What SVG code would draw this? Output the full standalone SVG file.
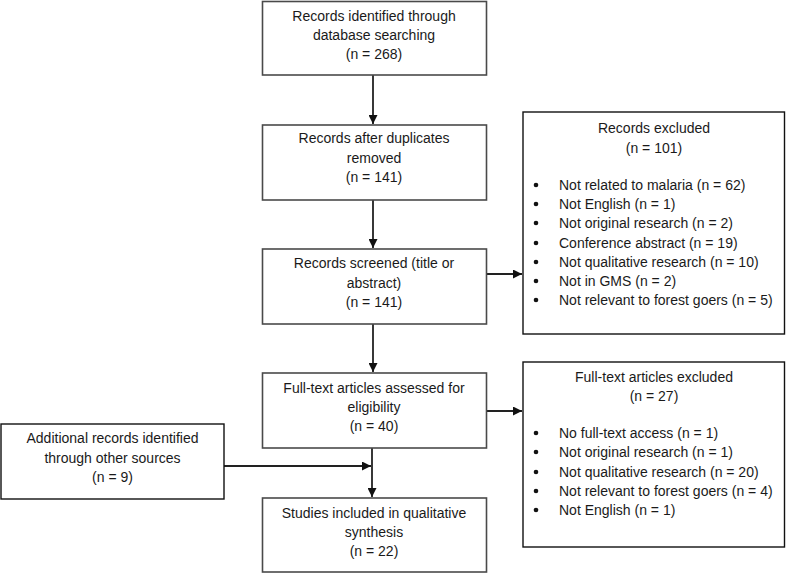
<svg xmlns="http://www.w3.org/2000/svg" width="786" height="573" viewBox="0 0 786 573">
<style>
  .box { fill: #fff; stroke: #4a4a4a; stroke-width: 1.6; }
  .boxk { fill: #fff; stroke: #111; stroke-width: 1.4; }
  text { font-family: "Liberation Sans", Arial, sans-serif; font-size: 14px; fill: #1a1a1a; }
  .c { text-anchor: middle; }
  .ln { stroke: #222; stroke-width: 1.8; fill: none; }
  .dot { fill: #111; }
</style>
<defs>
  <marker id="ah" viewBox="0 0 10 10" refX="10" refY="5" markerWidth="9" markerHeight="9" markerUnits="userSpaceOnUse" orient="auto">
    <path d="M0,0 L10,5 L0,10 Z" fill="#111"/>
  </marker>
</defs>
<rect width="786" height="573" fill="#fff"/>

<g id="connectors">
  <line class="ln" x1="373" y1="75" x2="373" y2="124" marker-end="url(#ah)"/>
  <line class="ln" x1="373" y1="200" x2="373" y2="248" marker-end="url(#ah)"/>
  <line class="ln" x1="373" y1="324" x2="373" y2="372" marker-end="url(#ah)"/>
  <line class="ln" x1="372" y1="448" x2="372" y2="497" marker-end="url(#ah)"/>
  <line class="ln" x1="486" y1="274" x2="522" y2="274" marker-end="url(#ah)"/>
  <line class="ln" x1="486" y1="411" x2="522" y2="411" marker-end="url(#ah)"/>
  <line class="ln" x1="224" y1="466" x2="371" y2="466" marker-end="url(#ah)"/>
</g>

<g id="n1">
  <rect class="box" x="262.5" y="1.5" width="224" height="73.5"/>
  <text class="c" x="374" y="21">Records identified through</text>
  <text class="c" x="374" y="40">database searching</text>
  <text class="c" x="374" y="59">(n = 268)</text>
</g>

<g id="n2">
  <rect class="box" x="262.5" y="125" width="224" height="75"/>
  <text class="c" x="374" y="143">Records after duplicates</text>
  <text class="c" x="374" y="163">removed</text>
  <text class="c" x="374" y="182">(n = 141)</text>
</g>

<g id="n3">
  <rect class="box" x="262.5" y="249" width="224" height="75"/>
  <text class="c" x="374" y="268">Records screened (title or</text>
  <text class="c" x="374" y="288">abstract)</text>
  <text class="c" x="374" y="307">(n = 141)</text>
</g>

<g id="n4">
  <rect class="box" x="262.5" y="373" width="224" height="75"/>
  <text class="c" x="374" y="393">Full-text articles assessed for</text>
  <text class="c" x="374" y="412">eligibility</text>
  <text class="c" x="374" y="431">(n = 40)</text>
</g>

<g id="n5">
  <rect class="box" x="262.5" y="498" width="224" height="74"/>
  <text class="c" x="374" y="518">Studies included in qualitative</text>
  <text class="c" x="374" y="537">synthesis</text>
  <text class="c" x="374" y="556">(n = 22)</text>
</g>

<g id="n6">
  <rect class="boxk" x="1" y="424" width="223" height="75"/>
  <text class="c" x="112.5" y="443">Additional records identified</text>
  <text class="c" x="112.5" y="463">through other sources</text>
  <text class="c" x="112.5" y="482">(n = 9)</text>
</g>

<g id="n7">
  <rect class="boxk" x="523" y="112" width="261.5" height="222"/>
  <text class="c" x="654" y="133">Records excluded</text>
  <text class="c" x="654" y="153">(n = 101)</text>
  <circle class="dot" cx="536" cy="185" r="2.3"/>
  <text x="559" y="190">Not related to malaria (n = 62)</text>
  <circle class="dot" cx="536" cy="204" r="2.3"/>
  <text x="559" y="209">Not English (n = 1)</text>
  <circle class="dot" cx="536" cy="223" r="2.3"/>
  <text x="559" y="228">Not original research (n = 2)</text>
  <circle class="dot" cx="536" cy="243" r="2.3"/>
  <text x="559" y="248">Conference abstract (n = 19)</text>
  <circle class="dot" cx="536" cy="262" r="2.3"/>
  <text x="559" y="267">Not qualitative research (n = 10)</text>
  <circle class="dot" cx="536" cy="281" r="2.3"/>
  <text x="559" y="286">Not in GMS (n = 2)</text>
  <circle class="dot" cx="536" cy="300" r="2.3"/>
  <text x="559" y="305">Not relevant to forest goers (n = 5)</text>
</g>

<g id="n8">
  <rect class="boxk" x="523" y="362" width="261.5" height="185"/>
  <text class="c" x="654" y="382">Full-text articles excluded</text>
  <text class="c" x="654" y="401">(n = 27)</text>
  <circle class="dot" cx="536" cy="433" r="2.3"/>
  <text x="559" y="438">No full-text access (n = 1)</text>
  <circle class="dot" cx="536" cy="452" r="2.3"/>
  <text x="559" y="457">Not original research (n = 1)</text>
  <circle class="dot" cx="536" cy="472" r="2.3"/>
  <text x="559" y="477">Not qualitative research (n = 20)</text>
  <circle class="dot" cx="536" cy="491" r="2.3"/>
  <text x="559" y="496">Not relevant to forest goers (n = 4)</text>
  <circle class="dot" cx="536" cy="510" r="2.3"/>
  <text x="559" y="515">Not English (n = 1)</text>
</g>
</svg>
